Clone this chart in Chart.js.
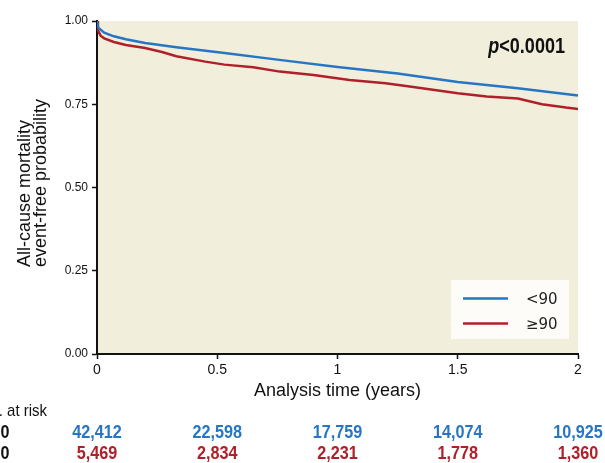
<!DOCTYPE html>
<html>
<head>
<meta charset="utf-8">
<script src="https://cdn.jsdelivr.net/npm/chart.js@4.4.0/dist/chart.umd.min.js"></script>
<style>
  html, body { margin: 0; padding: 0; background: #fff; }
  #wrap { width: 605px; height: 463px; }
</style>
</head>
<body>
<div id="wrap"><canvas id="kmChart" width="605" height="463"></canvas></div>
<script>
// Kaplan-Meier estimates
var lowTime  = [0, 0.005, 0.03, 0.07, 0.12, 0.2, 0.33, 0.53, 0.75, 1.0, 1.25, 1.5, 1.75, 2.0];
var lowSurv  = [1.0, 0.98, 0.965, 0.954, 0.945, 0.934, 0.921, 0.904, 0.884, 0.862, 0.842, 0.817, 0.798, 0.776];
var highTime = [0, 0.004, 0.015, 0.03, 0.07, 0.12, 0.2, 0.27, 0.33, 0.45, 0.53, 0.65, 0.76, 0.9, 1.05, 1.2, 1.3, 1.5, 1.62, 1.75, 1.85, 1.95, 2.0];
var highSurv = [1.0, 0.972, 0.956, 0.948, 0.937, 0.928, 0.919, 0.907, 0.894, 0.878, 0.869, 0.861, 0.848, 0.838, 0.823, 0.813, 0.803, 0.783, 0.773, 0.767, 0.750, 0.740, 0.736];

var groupLabels = ['<90', '\u226590'];
var xTicks = [0, 0.5, 1, 1.5, 2];
var xTickLabels = ['0', '0.5', '1', '1.5', '2'];
var yTicks = [0, 0.25, 0.5, 0.75, 1];

// numbers at risk
var riskTimes = [0, 0.5, 1, 1.5, 2];
var riskLow  = [42412, 22598, 17759, 14074, 10925];
var riskHigh = [5469, 2834, 2231, 1778, 1360];

var blue = '#2776c3';
var red = '#b0202a';
var sans = '"Liberation Sans", Arial, sans-serif';

function toPoints(t, s) {
    return t.map(function (v, i) { return { x: v, y: s[i] }; });
}

// no narrow font installed, so squeeze the regular one
function narrowText(c, text, x, y, align, sx) {
    c.save();
    c.translate(x, y);
    c.scale(sx, 1);
    c.textAlign = align;
    c.fillText(text, 0, 0);
    c.restore();
}

var extras = {
    id: 'extras',
    beforeDraw: function (chart) {
        var a = chart.chartArea, c = chart.ctx;
        c.save();
        c.fillStyle = '#f2eedc';
        c.fillRect(a.left, a.top, a.right - a.left, a.bottom - a.top);
        c.restore();
    },
    afterDraw: function (chart) {
        var c = chart.ctx, xs = chart.scales.x;
        c.save();

        // y axis title, two lines, start-aligned
        c.save();
        c.translate(0, 267);
        c.rotate(-Math.PI / 2);
        c.fillStyle = '#111';
        c.font = '18px ' + sans;
        c.textAlign = 'left';
        c.textBaseline = 'alphabetic';
        c.fillText('All-cause mortality', 0, 29.5);
        c.fillText('event-free probability', 0, 46);
        c.restore();

        // p value
        c.fillStyle = '#111';
        c.textBaseline = 'alphabetic';
        c.font = 'bold 22px ' + sans;
        var w = c.measureText('<0.0001').width * 0.82;
        narrowText(c, '<0.0001', 565, 53, 'right', 0.82);
        c.font = 'italic bold 22px ' + sans;
        narrowText(c, 'p', 565 - w, 53, 'right', 0.82);

        // legend
        c.fillStyle = '#fdfcf8';
        c.fillRect(451, 280, 118, 59);
        chart.data.datasets.forEach(function (ds, i) {
            var y = 298.5 + i * 25;
            c.strokeStyle = ds.borderColor;
            c.lineWidth = 2.5;
            c.beginPath();
            c.moveTo(463, y);
            c.lineTo(508, y);
            c.stroke();
            c.fillStyle = '#222';
            c.font = '15px "DejaVu Sans", sans-serif';
            c.textAlign = 'left';
            c.textBaseline = 'middle';
            c.fillText(ds.label, 526, y + 2);
        });

        // number at risk table
        c.textBaseline = 'alphabetic';
        c.fillStyle = '#111';
        c.font = '17px ' + sans;
        narrowText(c, 'No. at risk', 47, 416, 'right', 0.88);
        c.font = 'bold 19px ' + sans;
        narrowText(c, groupLabels[0], 9.5, 438, 'right', 0.85);
        narrowText(c, groupLabels[1], 9.5, 459, 'right', 0.85);
        c.font = 'bold 18px ' + sans;
        riskTimes.forEach(function (t, i) {
            var px = xs.getPixelForValue(t);
            c.fillStyle = blue;
            narrowText(c, riskLow[i].toLocaleString('en-US'), px, 438, 'center', 0.9);
            c.fillStyle = red;
            narrowText(c, riskHigh[i].toLocaleString('en-US'), px, 459, 'center', 0.9);
        });
        c.restore();
    }
};

var ctx = document.getElementById('kmChart').getContext('2d');
var kmChart = new Chart(ctx, {
    type: 'line',
    data: {
        datasets: [{
            label: groupLabels[0],
            data: toPoints(lowTime, lowSurv),
            borderColor: blue,
            borderWidth: 2.5,
            pointRadius: 0,
            tension: 0,
            fill: false
        }, {
            label: groupLabels[1],
            data: toPoints(highTime, highSurv),
            borderColor: red,
            borderWidth: 2.5,
            pointRadius: 0,
            tension: 0,
            fill: false
        }]
    },
    options: {
        responsive: false,
        animation: false,
        layout: { padding: { top: 21, right: 27, left: 0, bottom: 0 } },
        plugins: {
            legend: { display: false },
            tooltip: { enabled: false }
        },
        scales: {
            x: {
                type: 'linear',
                min: 0,
                max: 2,
                afterBuildTicks: function (s) { s.ticks = xTicks.map(function (v) { return { value: v }; }); },
                afterFit: function (s) { s.height = 109; },
                ticks: {
                    padding: 3,
                    color: '#111',
                    font: { family: sans, size: 14 },
                    callback: function (v) { return xTickLabels[xTicks.indexOf(v)]; }
                },
                grid: { drawOnChartArea: false, drawTicks: true, tickLength: 5, tickColor: '#111', tickWidth: 1.5 },
                border: { color: '#111', width: 2 },
                title: {
                    display: true,
                    text: 'Analysis time (years)',
                    color: '#111',
                    font: { family: sans, size: 18 },
                    padding: { top: 0, bottom: 61 }
                }
            },
            y: {
                min: 0,
                max: 1,
                afterBuildTicks: function (s) { s.ticks = yTicks.map(function (v) { return { value: v }; }); },
                afterFit: function (s) { s.width = 97; },
                ticks: {
                    padding: 4,
                    color: '#111',
                    font: { family: sans, size: 12 },
                    callback: function (v) { return v.toFixed(2); }
                },
                grid: { drawOnChartArea: false, drawTicks: true, tickLength: 5, tickColor: '#111', tickWidth: 1.5 },
                border: { color: '#111', width: 2 }
            }
        }
    },
    plugins: [extras]
});
</script>
</body>
</html>
